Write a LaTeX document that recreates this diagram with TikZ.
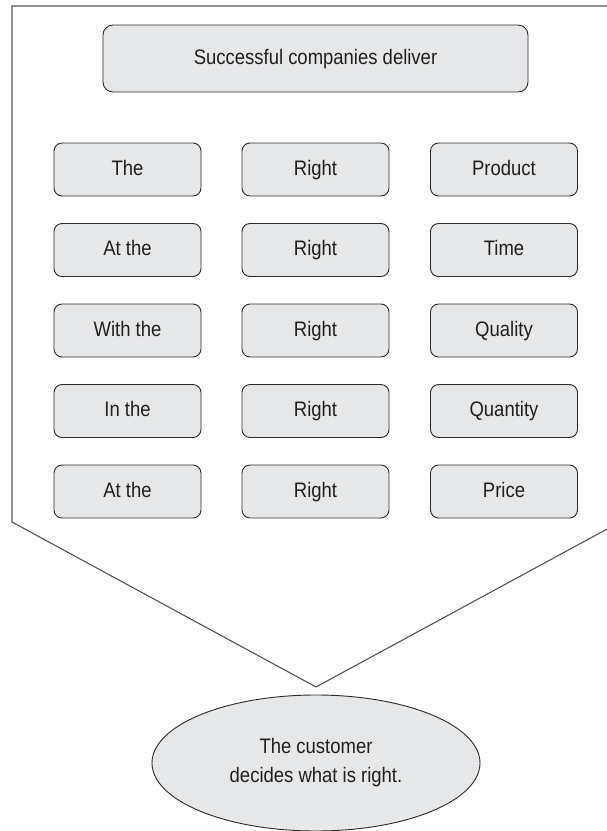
\documentclass[tikz,border=0pt]{standalone}
\usepackage{fontspec}
\setmainfont{Liberation Sans}[FakeStretch=0.88]
\usepackage{tikz}
\usetikzlibrary{shapes.geometric}
\definecolor{boxfill}{HTML}{E6E7E8}
\definecolor{boxline}{HTML}{2B2B2B}
\definecolor{framegray}{HTML}{555555}
\definecolor{textgray}{HTML}{231F20}

\begin{document}
\begin{tikzpicture}[
    x=1pt, y=-1pt,
    word/.style={draw=boxline, fill=boxfill, rounded corners=8pt, line width=0.9pt,
        minimum width=147pt, minimum height=53pt, inner sep=0pt,
        text height=15pt, text depth=4pt,
        text=textgray, font=\fontsize{21}{29}\selectfont},
    headbox/.style={word, rounded corners=10pt, minimum width=425pt, minimum height=67pt},
    verdict/.style={draw=boxline, fill=boxfill, ellipse, line width=0.9pt,
        minimum width=328pt, minimum height=136pt, inner sep=0pt, align=center,
        text=textgray, font=\fontsize{21}{29}\selectfont}
]
    \useasboundingbox (0,0) rectangle (607,831);

    % outer frame with pointed bottom
    \draw[framegray, line width=1.1pt] (12,522) -- (12,6) -- (620,6) -- (620,522) -- (316,687) -- cycle;

    \node[headbox] (head) at (315.5,58.5) {Successful companies deliver};

    \node[word] (the)     at (127.5,169.5) {The};
    \node[word] (right1)  at (315.5,169.5) {Right};
    \node[word] (product) at (504,169.5)   {Product};

    \node[word] (atthe1)  at (127.5,250) {At the};
    \node[word] (right2)  at (315.5,250) {Right};
    \node[word] (time)    at (504,250)   {Time};

    \node[word] (withthe) at (127.5,330.5) {With the};
    \node[word] (right3)  at (315.5,330.5) {Right};
    \node[word] (quality) at (504,330.5)   {Quality};

    \node[word] (inthe)   at (127.5,411) {In the};
    \node[word] (right4)  at (315.5,411) {Right};
    \node[word] (quantity) at (504,411)  {Quantity};

    \node[word] (atthe2)  at (127.5,491.5) {At the};
    \node[word] (right5)  at (315.5,491.5) {Right};
    \node[word] (price)   at (504,491.5)   {Price};

    \node[verdict] (customer) at (316,763) {The customer\\decides what is right.};
\end{tikzpicture}
\end{document}
